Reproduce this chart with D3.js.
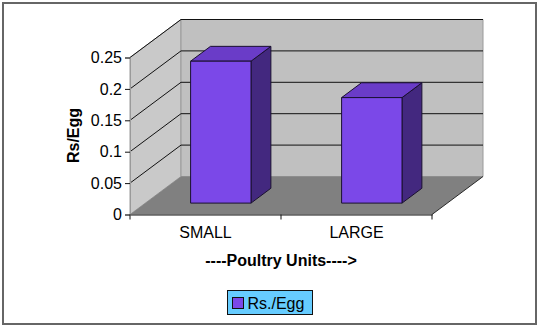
<!DOCTYPE html>
<html>
<head>
<meta charset="utf-8">
<script src="https://cdn.jsdelivr.net/npm/d3@7"></script>
<style>
  html, body { margin: 0; padding: 0; background: #fff; }
  svg { display: block; font-family: "Liberation Sans", Arial, sans-serif; }
</style>
</head>
<body>
<svg id="chart" width="540" height="328"></svg>
<script>
// Cost per egg by poultry unit size
const categories = ["SMALL", "LARGE"];
const values = [0.226, 0.168];
const yTicks = [0, 0.05, 0.1, 0.15, 0.2, 0.25];
const seriesName = "Rs./Egg";

const svg = d3.select("#chart");
const FONT = "Liberation Sans, Arial, sans-serif";

// Outer frame
svg.append("rect")
  .attr("x", 3).attr("y", 3).attr("width", 533).attr("height", 321)
  .attr("fill", "#fff").attr("stroke", "#666").attr("stroke-width", 2);

// Front plane geometry and 3D depth offset
const x0 = 130, x1 = 432;
const dx = 51, dy = -38;
const y = d3.scaleLinear().domain([0, 0.25]).range([214.5, 57.5]);
const x = d3.scaleBand().domain(categories).range([x0, x1]).paddingInner(0).paddingOuter(0);

const P = (px, py, f) => [px + dx * f, py + dy * f];
const poly = pts => "M" + pts.map(p => p.join(",")).join("L") + "Z";

// Side wall
svg.append("path")
  .attr("d", poly([P(x0, y(0.25), 0), P(x0, y(0.25), 1), P(x0, y(0), 1), P(x0, y(0), 0)]))
  .attr("fill", "#c9c9c9").attr("stroke", "#9a9a9a").attr("stroke-width", 1);

// Back wall
svg.append("path")
  .attr("d", poly([P(x0, y(0.25), 1), P(x1, y(0.25), 1), P(x1, y(0), 1), P(x0, y(0), 1)]))
  .attr("fill", "#c0c0c0").attr("stroke", "#9a9a9a").attr("stroke-width", 1);

// Floor
svg.append("path")
  .attr("d", poly([P(x0, y(0), 0), P(x1, y(0), 0), P(x1, y(0), 1), P(x0, y(0), 1)]))
  .attr("fill", "#808080").attr("stroke", "none");
svg.append("line")
  .attr("x1", x1).attr("y1", y(0)).attr("x2", x1 + dx).attr("y2", y(0) + dy)
  .attr("stroke", "#2a2a2a").attr("stroke-width", 1);

// Gridlines on side wall and back wall
const grid = svg.append("g").attr("stroke", "#111").attr("stroke-width", 1).attr("fill", "none");
yTicks.filter(v => v > 0).forEach(v => {
  const a = P(x0, y(v), 0), b = P(x0, y(v), 1), c = P(x1, y(v), 1);
  grid.append("path").attr("d", "M" + a.join(",") + "L" + b.join(",") + "L" + c.join(","));
});

// Bars as 3D boxes sitting mid-depth
const fFront = 0.3, fBack = 0.69;
const barW = x.bandwidth() * 0.4;
const colors = { front: "#7b48e8", top: "#6a3cc8", side: "#43287f" };
const bars = svg.append("g").attr("stroke", "#1a1030").attr("stroke-width", 1).attr("stroke-linejoin", "round");
categories.forEach((cat, i) => {
  const v = values[i];
  const bx = x(cat) + (x.bandwidth() - barW) / 2;
  const fl = P(bx, y(0), fFront), fr = P(bx + barW, y(0), fFront);
  const tl = P(bx, y(v), fFront), tr = P(bx + barW, y(v), fFront);
  const btl = P(bx, y(v), fBack), btr = P(bx + barW, y(v), fBack), bbr = P(bx + barW, y(0), fBack);
  bars.append("path").attr("d", poly([tr, btr, bbr, fr])).attr("fill", colors.side);
  bars.append("path").attr("d", poly([tl, btl, btr, tr])).attr("fill", colors.top);
  bars.append("path").attr("d", poly([tl, tr, fr, fl])).attr("fill", colors.front);
});

// Value axis on the front edge
const yAxis = d3.axisLeft(y).tickValues(yTicks).tickFormat(d => d3.format("")(d)).tickSize(5).tickPadding(3);
const ya = svg.append("g").attr("transform", `translate(${x0},0)`).call(yAxis);
ya.select(".domain").attr("stroke", "#9a9a9a");
ya.selectAll(".tick line").attr("stroke", "#111");
ya.selectAll(".tick text").attr("font-size", 16).attr("fill", "#000").attr("font-family", FONT);

// Category axis on the floor's front edge
const xAxis = d3.axisBottom(x).tickSize(0).tickPadding(12);
const xa = svg.append("g").attr("transform", `translate(0,${y(0)})`).call(xAxis);
xa.select(".domain").attr("stroke", "#111");
xa.selectAll(".tick text").attr("font-size", 16).attr("fill", "#000").attr("font-family", FONT);
const boundaries = [x0].concat(categories.map(c => x(c) + x.bandwidth()));
svg.append("g").selectAll("line").data(boundaries).join("line")
  .attr("x1", d => d).attr("x2", d => d)
  .attr("y1", y(0)).attr("y2", y(0) + 5)
  .attr("stroke", "#111");

// Axis titles
svg.append("text")
  .attr("x", 281).attr("y", 266)
  .attr("text-anchor", "middle").attr("font-weight", "bold").attr("font-size", 16)
  .text("----Poultry Units---->");
svg.append("text")
  .attr("transform", "translate(79,135.5) rotate(-90)")
  .attr("text-anchor", "middle").attr("font-weight", "bold").attr("font-size", 16)
  .text("Rs/Egg");

// Legend
const lg = svg.append("g").attr("transform", "translate(227.5,290.5)");
lg.append("rect").attr("width", 85).attr("height", 24)
  .attr("fill", "#66ccff").attr("stroke", "#111").attr("stroke-width", 1);
lg.append("rect").attr("x", 5).attr("y", 7).attr("width", 11).attr("height", 11)
  .attr("fill", colors.front).attr("stroke", "#111").attr("stroke-width", 1);
lg.append("text").attr("x", 20).attr("y", 18.5).attr("font-size", 16).text(seriesName);
</script>
</body>
</html>
